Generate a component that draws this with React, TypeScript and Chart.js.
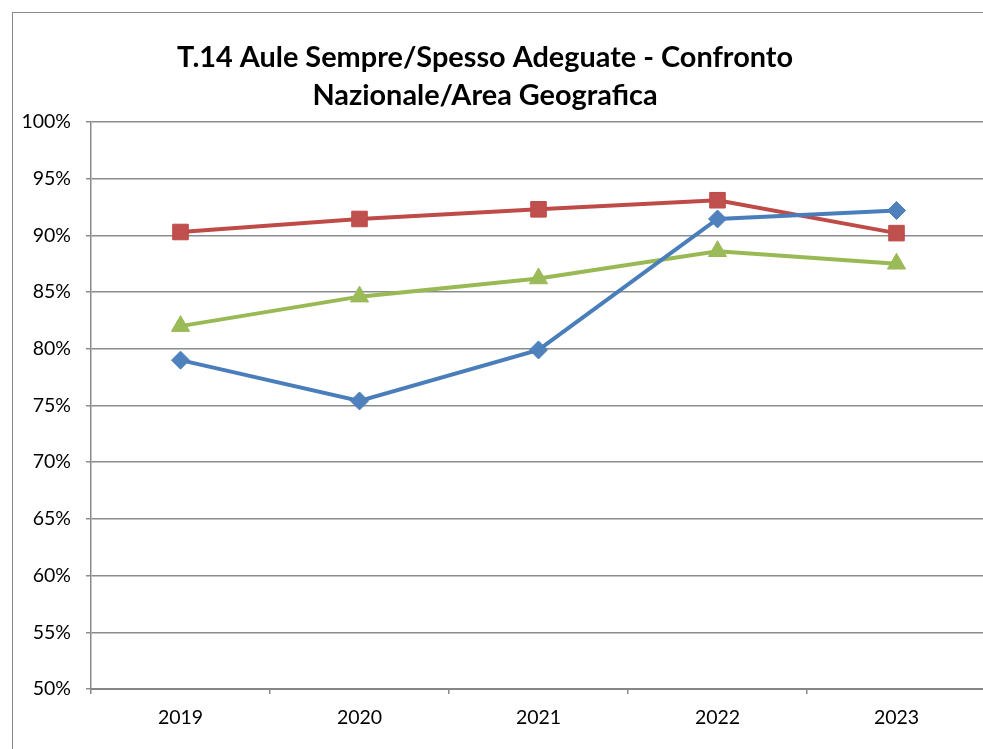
import { useEffect, useRef } from "react";
import { Chart, registerables } from "chart.js";

Chart.register(...registerables);

const categories = ["2019", "2020", "2021", "2022", "2023"];
const seriesScuola = [79.0, 75.4, 79.9, 91.45, 92.2];
const seriesNazionale = [90.3, 91.45, 92.3, 93.1, 90.2];
const seriesArea = [82.0, 84.6, 86.2, 88.6, 87.5];
const titleLines = ["T.14 Aule Sempre/Spesso Adeguate - Confronto", "Nazionale/Area Geografica"];
const yMin = 50;
const yMax = 100;
const yStep = 5;

const FONT = "Lato, 'Open Sans', sans-serif";

const titlePlugin = {
  id: "excelTitle",
  afterDraw(chart: any) {
    const ctx = chart.ctx as CanvasRenderingContext2D;
    ctx.save();
    ctx.fillStyle = "#000";
    ctx.textAlign = "center";
    ctx.textBaseline = "middle";
    ctx.font = `bold 28px ${FONT}`;
    const w = ctx.measureText(titleLines[0]).width;
    const sx = 616 / w;
    ctx.translate(485, 0);
    ctx.scale(sx, 1);
    ctx.fillText(titleLines[0], 0, 58);
    ctx.fillText(titleLines[1], 0, 96);
    ctx.restore();
  },
};

export default function App() {
  const ref = useRef<HTMLCanvasElement | null>(null);

  useEffect(() => {
    if (!ref.current) return;
    const chart = new Chart(ref.current, {
      type: "line",
      data: {
        labels: categories,
        datasets: [
          {
            label: "Scuola",
            data: seriesScuola,
            borderColor: "#4A7EBB",
            backgroundColor: "#4F81BD",
            pointBorderColor: "#4A7EBB",
            borderWidth: 4,
            pointStyle: "rectRot",
            pointRadius: 9,
            pointBorderWidth: 1,
            tension: 0,
          },
          {
            label: "Nazionale",
            data: seriesNazionale,
            borderColor: "#BE4B48",
            backgroundColor: "#C0504D",
            pointBorderColor: "#BE4B48",
            borderWidth: 4,
            pointStyle: "rect",
            pointRadius: 11,
            pointBorderWidth: 1,
            tension: 0,
          },
          {
            label: "Area Geografica",
            data: seriesArea,
            borderColor: "#98B954",
            backgroundColor: "#9BBB59",
            pointBorderColor: "#98B954",
            borderWidth: 4,
            pointStyle: "triangle",
            pointRadius: 10.5,
            pointBorderWidth: 1,
            tension: 0,
          },
        ],
      },
      options: {
        responsive: false,
        animation: false,
        devicePixelRatio: 1,
        layout: { padding: { left: 0, top: 122, right: 14, bottom: 11 } },
        plugins: {
          legend: { display: false },
          title: { display: false },
          tooltip: { enabled: false },
        },
        scales: {
          x: {
            type: "category",
            offset: true,
            afterFit(scale: any) {
              scale.height = 60;
            },
            grid: {
              display: true,
              offset: true,
              drawOnChartArea: false,
              drawTicks: true,
              tickLength: 5,
              color: "#8a8a8a",
              lineWidth: 1.5,
            },
            border: { display: true, color: "#868686", width: 2 },
            ticks: {
              color: "#000",
              padding: 12,
              maxRotation: 0,
              font: { family: FONT, size: 19.5 },
            },
          },
          y: {
            min: yMin,
            max: yMax,
            afterFit(scale: any) {
              scale.width = 91;
            },
            grid: {
              color: "#8c8c8c",
              lineWidth: 1.5,
              tickLength: 5,
            },
            border: { display: true, color: "#8a8a8a", width: 1.5 },
            ticks: {
              stepSize: yStep,
              color: "#000",
              padding: 15,
              font: { family: FONT, size: 19.5 },
              callback: (v: any) => `${v}%`,
            },
          },
        },
      },
      plugins: [titlePlugin],
    });
    return () => chart.destroy();
  }, []);

  return (
    <div
      style={{
        position: "absolute",
        left: 0,
        top: 0,
        width: 983,
        height: 749,
        overflow: "hidden",
        background: "#fff",
      }}
    >
      <div
        style={{
          position: "absolute",
          left: 12,
          top: 12,
          width: 1100,
          height: 900,
          border: "1.5px solid #8a8a8a",
          boxSizing: "border-box",
        }}
      />
      <canvas
        ref={ref}
        width={1000}
        height={760}
        style={{ position: "absolute", left: 0, top: 0 }}
      />
    </div>
  );
}
